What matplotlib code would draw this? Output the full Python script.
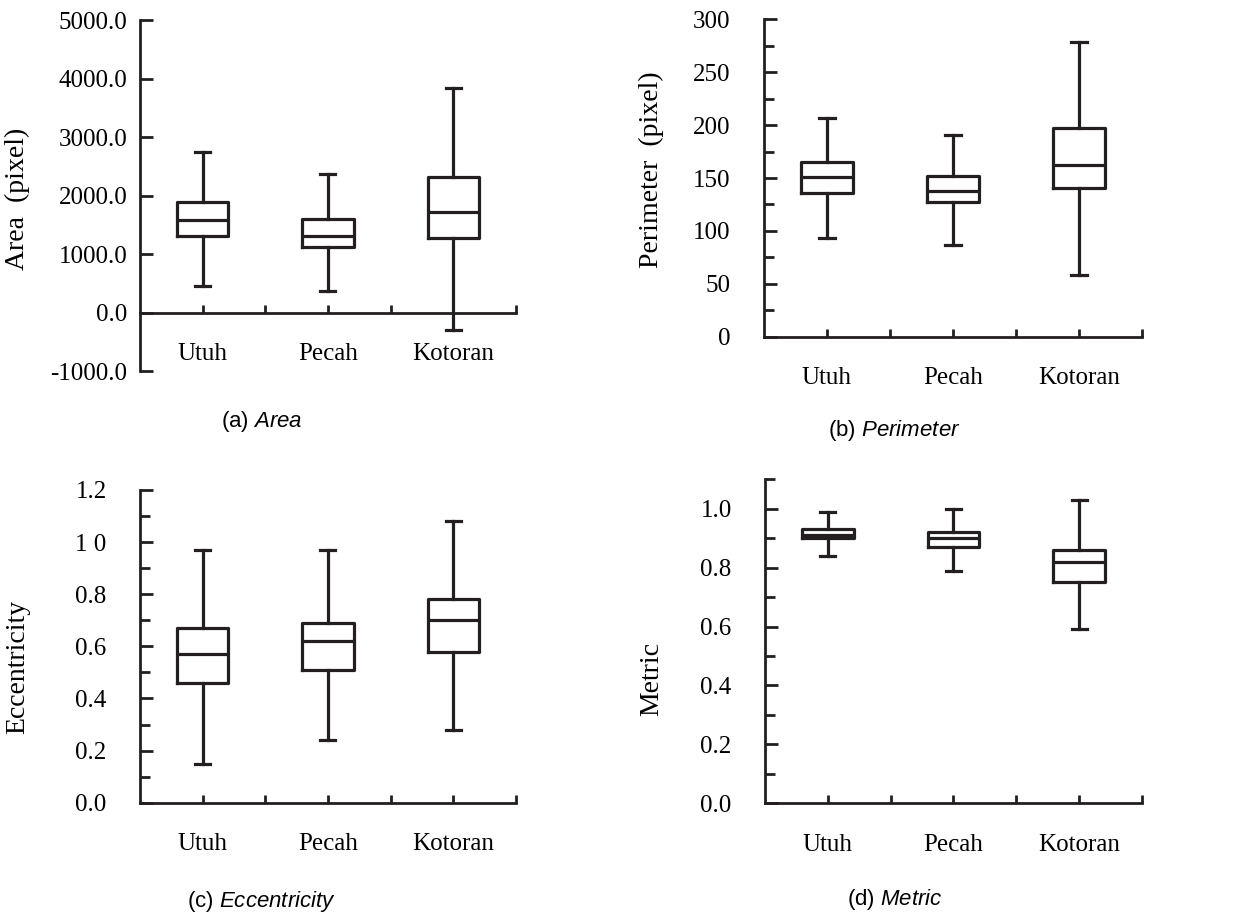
import matplotlib
matplotlib.use('Agg')
import matplotlib.pyplot as plt
from matplotlib.ticker import MultipleLocator, FixedLocator, FixedFormatter

plt.rcParams['font.family'] = ['Liberation Serif', 'DejaVu Serif']
plt.rcParams['axes.unicode_minus'] = False
plt.rcParams['mathtext.fontset'] = 'custom'
plt.rcParams['mathtext.rm'] = 'Liberation Sans'
plt.rcParams['mathtext.it'] = 'Liberation Sans:italic'

categories = ['Utuh', 'Pecah', 'Kotoran']

# box stats: lower whisker, q1, median, q3, upper whisker
area_lo = [458, 360, -302]
area_q1 = [1315, 1114, 1276]
area_med = [1589, 1315, 1714]
area_q3 = [1886, 1601, 2314]
area_hi = [2743, 2361, 3830]

per_lo = [93, 87, 58]
per_q1 = [135.5, 127.6, 140.3]
per_med = [151, 138, 162]
per_q3 = [165, 152, 197]
per_hi = [207, 191, 279]

ecc_lo = [0.15, 0.24, 0.28]
ecc_q1 = [0.46, 0.51, 0.58]
ecc_med = [0.57, 0.62, 0.70]
ecc_q3 = [0.67, 0.69, 0.78]
ecc_hi = [0.97, 0.97, 1.08]

met_lo = [0.84, 0.79, 0.59]
met_q1 = [0.90, 0.87, 0.75]
met_med = [0.91, 0.90, 0.82]
met_q3 = [0.93, 0.92, 0.86]
met_hi = [0.99, 1.00, 1.03]

ink = '#231f20'
lw = 2.3


def panel(ax, lo, q1, med, q3, hi):
    stats = []
    for i in range(len(categories)):
        stats.append(dict(whislo=lo[i], q1=q1[i], med=med[i], q3=q3[i],
                          whishi=hi[i], fliers=[], label=categories[i]))
    props = dict(color=ink, linewidth=lw)
    ax.bxp(stats, positions=[0.5, 1.5, 2.5], widths=0.41, capwidths=0.12,
           boxprops=props, medianprops=props, whiskerprops=props,
           capprops=props, showfliers=False)
    ax.set_xlim(0, 3)
    ax.xaxis.set_major_locator(FixedLocator([0.5, 1.5, 2.5]))
    ax.xaxis.set_major_formatter(FixedFormatter(categories))
    ax.xaxis.set_minor_locator(FixedLocator([1, 2, 3]))
    for s in ['top', 'right']:
        ax.spines[s].set_visible(False)
    for s in ['left', 'bottom']:
        ax.spines[s].set_linewidth(2)
        ax.spines[s].set_color(ink)
    ax.tick_params(axis='x', which='both', direction='in', length=6, width=2,
                   color=ink, labelsize=18, pad=22)
    ax.tick_params(axis='y', which='major', direction='in', length=9, width=2,
                   color=ink, labelsize=18, pad=24)
    ax.tick_params(axis='y', which='minor', direction='in', length=7, width=2,
                   color=ink)


fig = plt.figure(figsize=(12.53, 9.15), dpi=100)

# (a) Area
ax1 = fig.add_axes([0.1117, 0.5945, 0.3001, 0.3836])
panel(ax1, area_lo, area_q1, area_med, area_q3, area_hi)
ax1.set_ylim(-1000, 5000)
ax1.spines['bottom'].set_position(('data', 0))
ax1.yaxis.set_major_locator(MultipleLocator(1000))
ax1.yaxis.set_major_formatter('{x:.1f}')
ax1.tick_params(axis='y', pad=9)
ax1.set_ylabel('Area  (pixel)', fontsize=20)
ax1.yaxis.set_label_coords(-0.292, 0.49)

# (b) Perimeter
ax2 = fig.add_axes([0.6097, 0.6320, 0.3017, 0.3469])
panel(ax2, per_lo, per_q1, per_med, per_q3, per_hi)
ax2.set_ylim(0, 300)
ax2.yaxis.set_major_locator(MultipleLocator(50))
ax2.yaxis.set_minor_locator(MultipleLocator(25))
ax2.set_ylabel('Perimeter  (pixel)', fontsize=20)
ax2.yaxis.set_label_coords(-0.265, 0.525)

# (c) Eccentricity
ax3 = fig.add_axes([0.1117, 0.1227, 0.3001, 0.3418])
panel(ax3, ecc_lo, ecc_q1, ecc_med, ecc_q3, ecc_hi)
ax3.set_ylim(0, 1.2)
ax3.yaxis.set_major_locator(FixedLocator([0, 0.2, 0.4, 0.6, 0.8, 1.0, 1.2]))
ax3.yaxis.set_major_formatter(FixedFormatter(['0.0', '0.2', '0.4', '0.6', '0.8', '1 0', '1.2']))
ax3.yaxis.set_minor_locator(MultipleLocator(0.1))
ax3.set_ylabel('Eccentricity', fontsize=20)
ax3.yaxis.set_label_coords(-0.292, 0.434)

# (d) Metric
ax4 = fig.add_axes([0.6105, 0.1221, 0.3009, 0.3541])
panel(ax4, met_lo, met_q1, met_med, met_q3, met_hi)
ax4.set_ylim(0, 1.1)
ax4.yaxis.set_major_locator(FixedLocator([0, 0.2, 0.4, 0.6, 0.8, 1.0]))
ax4.yaxis.set_major_formatter('{x:.1f}')
ax4.yaxis.set_minor_locator(FixedLocator([0.1, 0.3, 0.5, 0.7, 0.9, 1.1]))
ax4.set_ylabel('Metric', fontsize=20)
ax4.yaxis.set_label_coords(-0.268, 0.385)

# captions under each panel
cap = dict(fontsize=16, ha='center', va='center', family='Liberation Sans')
fig.text(262 / 1253, 0.539, r'(a) $\mathit{Area}$', **cap)
fig.text(894 / 1253, 0.530, r'(b) $\mathit{Perimeter}$', **cap)
fig.text(261 / 1253, 0.0146, r'(c) $\mathit{Eccentricity}$', **cap)
fig.text(895 / 1253, 0.0164, r'(d) $\mathit{Metric}$', **cap)

fig.savefig('out.png', dpi=100)
